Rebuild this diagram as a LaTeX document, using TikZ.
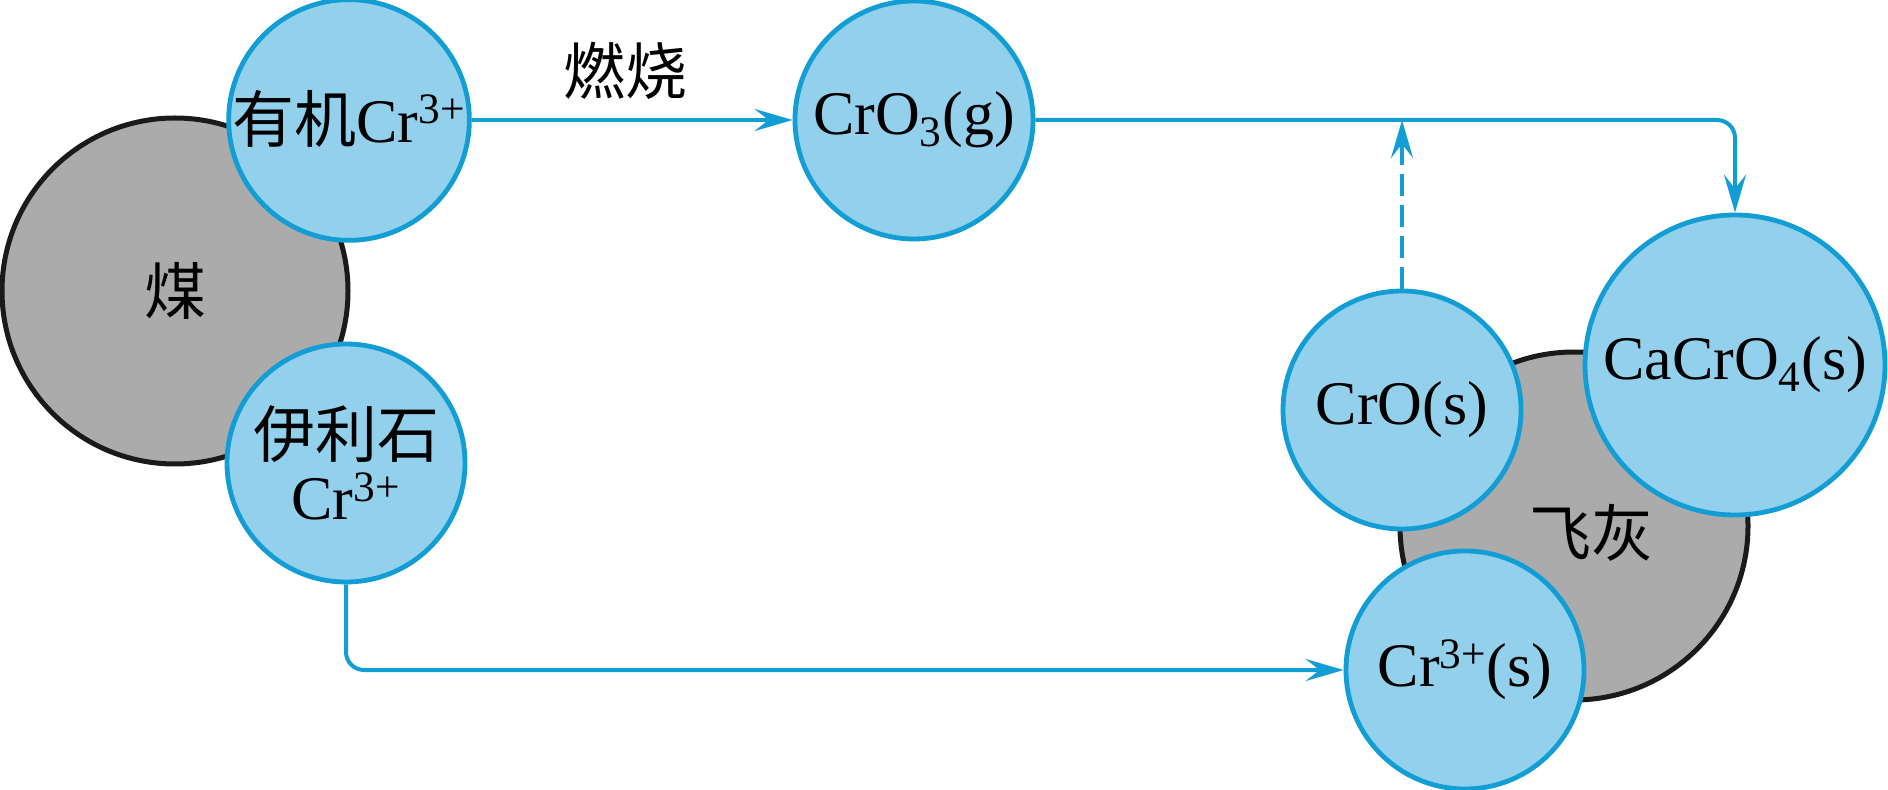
\documentclass[tikz,border=0pt]{standalone}
\usepackage{fontspec}
\setmainfont{Liberation Serif}
\newfontfamily\cjk{Noto Sans CJK SC}
\usetikzlibrary{arrows.meta}

\definecolor{crblue}{RGB}{18,157,212}
\definecolor{crfill}{RGB}{146,208,236}
\definecolor{ashgray}{RGB}{171,171,171}
\definecolor{ashline}{RGB}{26,26,26}

\tikzset{
  particle/.style={circle, draw=ashline, line width=2.5pt, fill=ashgray, inner sep=0pt},
  species/.style={circle, draw=crblue, line width=2.4pt, fill=crfill, inner sep=0pt, align=center},
  flow/.style={draw=crblue, line width=2pt, -{Stealth[length=19pt,width=11pt,inset=7pt]}},
  txt/.style={font=\fontsize{31}{35}\selectfont}
}

\begin{document}
\begin{tikzpicture}[x=0.5pt,y=0.5pt,yscale=-1,xscale=1,every node/.style={txt}]
\useasboundingbox (0,0) rectangle (1888,790);

%coal with its two chromium forms
\node[particle, minimum size=173pt] (coal) at (175,291) {\raisebox{-9pt}{\cjk 煤}};
\node[species, minimum size=119pt] (org) at (349,120) {\raisebox{4pt}{{\cjk 有机}Cr\textsuperscript{3+}}};
\node[species, minimum size=119pt] (illite) at (346,463) {\raisebox{-12pt}{\shortstack{{\cjk 伊利石}\\[2pt]Cr\textsuperscript{3+}}}};

%gas phase
\node (burn) at (625,71) {\cjk 燃烧};
\node[species, minimum size=119pt] (cro3) at (914,120) {CrO\textsubscript{3}(g)};

%fly ash with its chromium forms
\node[particle, minimum size=174pt] (ash) at (1574,526) {};
\node[species, minimum size=119pt] (cro) at (1402,410) {CrO(s)};
\node[species, minimum size=150pt] (cacro4) at (1735,365) {CaCrO\textsubscript{4}(s)};
\node[species, minimum size=119pt] (cr3s) at (1465,670) {Cr\textsuperscript{3+}(s)};
\node (ashlbl) at (1591,533) {\cjk 飞灰};

%connectors
\draw[flow] (org.east) -- (cro3.west);
\draw[flow, rounded corners=9pt] (cro3.east) -| (cacro4.north);
\draw[flow, dash pattern=on 11pt off 4.5pt] (cro.north) -- (cro.north |- cro3.east);
\draw[flow, rounded corners=9pt] (illite.south) |- (cr3s.west);

\end{tikzpicture}
\end{document}
